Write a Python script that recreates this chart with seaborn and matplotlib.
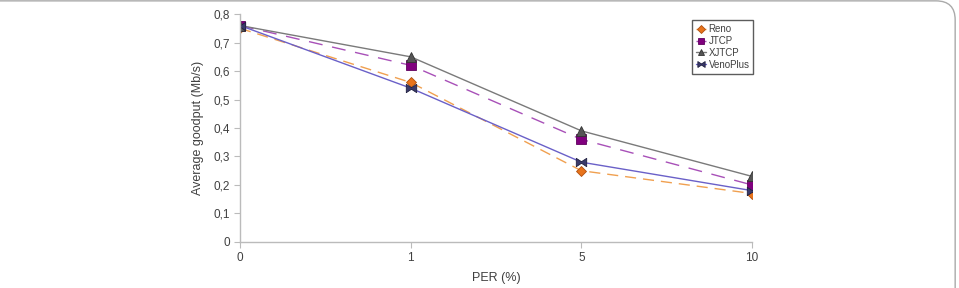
import matplotlib
matplotlib.use("Agg")
import matplotlib.pyplot as plt
import seaborn as sns
import pandas as pd
from matplotlib.patches import FancyBboxPatch
from matplotlib.ticker import FuncFormatter

per_labels = ["0", "1", "5", "10"]
reno = [0.75, 0.56, 0.25, 0.17]
jtcp = [0.76, 0.62, 0.36, 0.20]
xjtcp = [0.76, 0.65, 0.39, 0.23]
venoplus = [0.76, 0.54, 0.28, 0.18]
series_names = ["Reno", "JTCP", "XJTCP", "VenoPlus"]
y_ticks = [0, 0.1, 0.2, 0.3, 0.4, 0.5, 0.6, 0.7, 0.8]

sns.set_theme(style="white")
plt.rcParams["font.family"] = ["Liberation Sans", "DejaVu Sans"]

fig = plt.figure(figsize=(9.59, 2.88), dpi=100)
ax = fig.add_axes([0.2503, 0.160, 0.534, 0.791])

bowtie = [(-1, -0.8), (-1, 0.8), (0, 0.15), (1, 0.8), (1, -0.8), (0, -0.15), (-1, -0.8)]

styles = {
    "Reno": dict(color="#F0A050", marker="D", mfc="#E8741C", mec="#B05010", ms=5.5, dashes=(8, 5)),
    "JTCP": dict(color="#A850B8", marker="s", mfc="#80007E", mec="#60005E", ms=6.5, dashes=(10, 7)),
    "XJTCP": dict(color="#7A7A7A", marker="^", mfc="#555555", mec="#333333", ms=7, dashes=None),
    "VenoPlus": dict(color="#6A60C8", marker=bowtie, mfc="#3A3A6A", mec="#202040", ms=7.5, dashes=None),
}
values = {"Reno": reno, "JTCP": jtcp, "XJTCP": xjtcp, "VenoPlus": venoplus}

for name in series_names:
    st = styles[name]
    df = pd.DataFrame({"PER": per_labels, "goodput": values[name]})
    kw = {}
    if st["dashes"] is not None:
        kw["dashes"] = st["dashes"]
    sns.lineplot(data=df, x="PER", y="goodput", ax=ax, color=st["color"],
                 marker=st["marker"], markersize=st["ms"],
                 markerfacecolor=st["mfc"], markeredgecolor=st["mec"],
                 markeredgewidth=0.6, linewidth=1.0, label=name, sort=False, **kw)

ax.set_xlim(0, 3)
ax.set_ylim(0, 0.8)
ax.set_yticks(y_ticks)
ax.yaxis.set_major_formatter(FuncFormatter(lambda v, p: "0" if v == 0 else f"{v:.1f}".replace(".", ",")))
ax.set_xlabel("PER (%)", fontsize=9, color="#404040", labelpad=6)
ax.set_ylabel("Average goodput (Mb/s)", fontsize=9, color="#404040", labelpad=7)
ax.tick_params(axis="both", labelsize=8.5, colors="#404040", length=4, width=0.8, direction="out",
               left=True, bottom=True, pad=3)
ax.tick_params(axis="both", color="#BBBBBB")
for s in ["top", "right"]:
    ax.spines[s].set_visible(False)
for s in ["left", "bottom"]:
    ax.spines[s].set_color("#BBBBBB")
    ax.spines[s].set_linewidth(1.0)
ax.grid(False)

leg = ax.legend(loc="upper left", bbox_to_anchor=(0.873, 0.995), fontsize=7, frameon=True,
                fancybox=False, handlelength=1.0, handletextpad=0.3, borderpad=0.4,
                labelspacing=0.2, markerscale=0.7)
leg.get_frame().set_edgecolor("#333333")
leg.get_frame().set_linewidth(1.0)
for t in leg.get_texts():
    t.set_color("#404040")

frame = FancyBboxPatch((-0.05, -0.1), 1.046, 1.097, boxstyle="round,pad=0,rounding_size=0.02",
                       transform=fig.transFigure, fill=False, edgecolor="#AAAAAA", linewidth=1.0,
                       mutation_aspect=3.3)
fig.patches.append(frame)

fig.savefig("out.png", dpi=100)
